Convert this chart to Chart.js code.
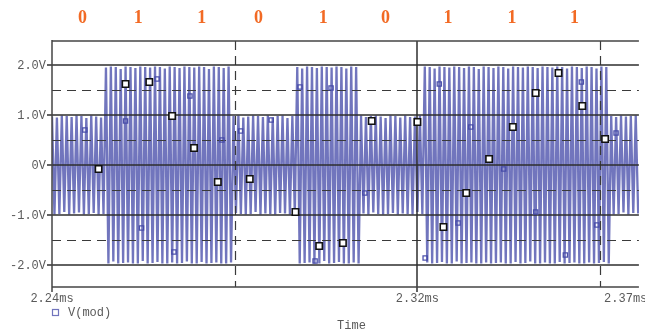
<!DOCTYPE html>
<html>
<head>
<meta charset="utf-8">
<title>V(mod)</title>
<script src="https://cdn.jsdelivr.net/npm/chart.js@4.4.1/dist/chart.umd.min.js"></script>
<style>
  html, body { margin: 0; padding: 0; background: #fff; }
  #wrap { width: 645px; height: 331px; }
</style>
</head>
<body>
<div id="wrap"><canvas id="chart" width="645" height="331"></canvas></div>
<script>
// --- data ---
const startMs = 2.24;
const halfCycleMs = 0.000537;   // spacing between successive carrier peaks

// carrier peaks (V), one row per bit slot
const peakVolts = [
  0.97,-0.99,0.95,-0.98,0.99,-0.94,0.98,-0.99,0.96,-0.97,0.99,-0.95,0.98,-0.99,0.94,-0.98,0.99,-0.96,0.97,-0.99,0.95,-0.98,
  1.95,-1.97,1.97,-1.93,1.96,-1.97,1.92,-1.96,1.97,-1.95,1.96,-1.97,1.94,-1.97,1.97,-1.92,1.96,-1.97,1.95,-1.96,1.97,-1.94,1.96,-1.97,1.93,-1.97,
  1.97,-1.95,1.96,-1.97,1.94,-1.96,1.97,-1.93,1.96,-1.97,1.95,-1.97,1.97,-1.94,1.96,-1.97,1.92,-1.96,1.97,-1.95,1.96,-1.97,1.94,-1.97,1.97,-1.95,
  0.98,-0.96,0.99,-0.98,0.95,-0.99,0.97,-0.98,0.99,-0.94,0.98,-0.99,0.96,-0.97,0.99,-0.98,0.95,-0.99,0.98,-0.96,0.99,-0.97,0.94,-0.99,0.98,-0.97,
  1.96,-1.97,1.93,-1.96,1.97,-1.95,1.96,-1.97,1.94,-1.97,1.97,-1.92,1.96,-1.97,1.95,-1.96,1.97,-1.94,1.96,-1.97,1.93,-1.97,1.97,-1.95,1.96,-1.97,
  0.99,-0.97,0.96,-0.99,0.98,-0.95,0.99,-0.98,0.97,-0.99,0.94,-0.98,0.99,-0.96,0.98,-0.99,0.95,-0.97,0.99,-0.98,0.96,-0.99,0.97,-0.94,0.99,-0.98,
  1.97,-1.95,1.96,-1.97,1.93,-1.96,1.97,-1.94,1.96,-1.97,1.95,-1.97,1.97,-1.93,1.96,-1.97,1.94,-1.96,1.97,-1.95,1.96,-1.97,1.92,-1.97,1.97,-1.95,
  1.96,-1.97,1.94,-1.96,1.97,-1.95,1.96,-1.97,1.93,-1.97,1.97,-1.94,1.96,-1.97,1.95,-1.96,1.97,-1.93,1.96,-1.97,1.94,-1.97,1.97,-1.95,1.96,-1.97,
  1.95,-1.97,1.97,-1.94,1.96,-1.97,1.93,-1.96,1.97,-1.95,1.96,-1.97,1.94,-1.97,1.97,-1.95,1.96,-1.97,1.93,-1.96,1.97,-1.94,1.96,-1.97,
  0.98,-0.99,0.96,-0.98,0.99,-0.95,0.97,-0.99,0.98,-0.96,0.99,-0.97
];

// highlighted sample markers (white squares)
const markTimes = [2.2502,2.2561,2.2613,2.2663,2.2711,2.2763,2.2833,2.2933,2.2985,2.3037,2.3100,2.3200,2.3257,2.3307,2.3357,2.3409,2.3459,2.3509,2.3561,2.3611];
const markVolts = [-0.08,1.62,1.66,0.98,0.34,-0.34,-0.28,-0.94,-1.62,-1.56,0.88,0.86,-1.24,-0.56,0.12,0.76,1.44,1.84,1.18,0.52];

// trace symbols (small blue squares)
const symTimes = [2.2472,2.2561,2.2596,2.2630,2.2667,2.2702,2.2772,2.2813,2.2880,2.2943,2.2976,2.3011,2.3085,2.3217,2.3248,2.3289,2.3317,2.3389,2.3459,2.3524,2.3559,2.3593,2.3635];
const symVolts = [0.70,0.88,-1.26,1.72,-1.74,1.38,0.50,0.68,0.90,1.56,-1.92,1.54,-0.56,-1.86,1.62,-1.16,0.76,-0.08,-0.94,-1.80,1.66,-1.20,0.64];

// bit sequence written over the trace
const bits = ['0','1','1','0','1','0','1','1','1'];
const bitTimes = [2.2467,2.2589,2.2728,2.2852,2.2994,2.3130,2.3267,2.3407,2.3544];

// axes
const yLabelValues = [2, 1, 0, -1, -2];
const yLabels = ['2.0V', '1.0V', '0V', '-1.0V', '-2.0V'];
const yDashed = [1.5, 0.5, -0.5, -1.5];
const xSolid = [2.32];
const xDashed = [2.28, 2.36];
const xLabelValues = [2.24, 2.32, 2.36];
const xLabels = ['2.24ms', '2.32ms', '2.37ms'];

const wave = peakVolts.map((v, i) => ({ x: startMs + i * halfCycleMs, y: v }));
const marks = markTimes.map((t, i) => ({ x: t, y: markVolts[i] }));
const syms = symTimes.map((t, i) => ({ x: t, y: symVolts[i] }));

const MONO = '"Liberation Mono", "DejaVu Sans Mono", monospace';
const TRACE = 'rgba(78,82,172,0.8)';

function seg(ctx, x1, y1, x2, y2) {
  ctx.beginPath();
  ctx.moveTo(x1, y1);
  ctx.lineTo(x2, y2);
  ctx.stroke();
}

const pspiceFrame = {
  id: 'pspiceFrame',
  // grid sits over the trace but under the markers
  afterDatasetDraw(chart, args) {
    if (args.index !== 0) return;
    const { ctx, chartArea: a, scales: { x, y } } = chart;
    ctx.save();
    ctx.strokeStyle = '#3a3a3a';
    ctx.lineWidth = 1.2;
    ctx.setLineDash([9, 6]);
    yDashed.forEach(v => {
      const py = Math.round(y.getPixelForValue(v)) + 0.5;
      seg(ctx, a.left, py, a.right, py);
    });
    xDashed.forEach(v => {
      const px = Math.round(x.getPixelForValue(v)) + 0.5;
      seg(ctx, px, a.top, px, a.bottom);
    });
    ctx.setLineDash([]);
    ctx.strokeStyle = '#2e2e2e';
    ctx.lineWidth = 1.5;
    yLabelValues.forEach(v => {
      const py = Math.round(y.getPixelForValue(v));
      seg(ctx, a.left - 5, py, a.right, py);
    });
    xSolid.forEach(v => {
      const px = Math.round(x.getPixelForValue(v));
      seg(ctx, px, a.top, px, a.bottom + 5);
    });
    ctx.strokeStyle = '#444';
    seg(ctx, a.left, a.top, a.right, a.top);
    seg(ctx, a.left, a.bottom, a.right, a.bottom);
    seg(ctx, a.left, a.top - 1, a.left, a.bottom + 5);
    ctx.restore();
  },
  afterDraw(chart) {
    const { ctx, chartArea: a, scales: { x, y } } = chart;
    ctx.save();
    ctx.fillStyle = '#5a5a5a';
    ctx.font = '12px ' + MONO;
    ctx.textBaseline = 'middle';
    ctx.textAlign = 'right';
    yLabelValues.forEach((v, i) => {
      ctx.fillText(yLabels[i], a.left - 6, y.getPixelForValue(v) + 1);
    });
    ctx.textAlign = 'center';
    xLabelValues.forEach((v, i) => {
      let px = x.getPixelForValue(v);
      if (i === 2) { ctx.textAlign = 'left'; px += 4; }
      ctx.fillText(xLabels[i], px, a.bottom + 12);
    });
    ctx.textAlign = 'center';
    ctx.fillText('Time', (a.left + a.right) / 2 + 6, a.bottom + 39);

    // legend
    ctx.strokeStyle = TRACE;
    ctx.lineWidth = 1.2;
    ctx.strokeRect(52.5, 309.5, 6, 6);
    ctx.textAlign = 'left';
    ctx.fillText('V(mod)', 68, 313);

    // bit labels
    ctx.fillStyle = '#f26a24';
    ctx.font = 'bold 18px "Liberation Serif", "DejaVu Serif", serif';
    ctx.textAlign = 'center';
    bits.forEach((b, i) => ctx.fillText(b, x.getPixelForValue(bitTimes[i]), 18));
    ctx.restore();
  }
};

new Chart(document.getElementById('chart'), {
  type: 'line',
  data: {
    datasets: [
      {
        label: 'V(mod)',
        data: wave,
        borderColor: TRACE,
        borderWidth: 2.3,
        pointRadius: 0,
        tension: 0,
        order: 3
      },
      {
        label: 'symbols',
        data: syms,
        showLine: false,
        pointStyle: 'rect',
        pointRadius: 3,
        pointBorderWidth: 1.3,
        pointBackgroundColor: 'rgba(255,255,255,0)',
        pointBorderColor: 'rgba(70,74,168,0.95)',
        order: 2
      },
      {
        label: 'markers',
        data: marks,
        showLine: false,
        pointStyle: 'rect',
        pointRadius: 4.5,
        pointBorderWidth: 1.6,
        pointBackgroundColor: '#fff',
        pointBorderColor: '#111',
        order: 1
      }
    ]
  },
  options: {
    responsive: false,
    animation: false,
    events: [],
    layout: { padding: { left: 52, top: 41, right: 0, bottom: 44 } },
    plugins: { legend: { display: false }, tooltip: { enabled: false } },
    scales: {
      x: { type: 'linear', min: 2.24, max: 2.3685, display: false },
      y: { type: 'linear', min: -2.44, max: 2.48, display: false }
    }
  },
  plugins: [pspiceFrame]
});
</script>
</body>
</html>
